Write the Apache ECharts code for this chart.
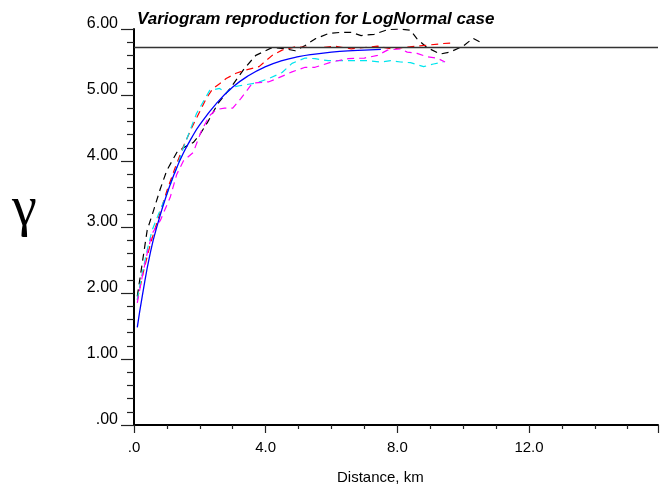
<!DOCTYPE html>
<html>
<head>
<meta charset="utf-8">
<script src="https://cdn.jsdelivr.net/npm/echarts@6/dist/echarts.min.js"></script>
<style>html,body{margin:0;padding:0;background:#fff;}#c{width:661px;height:495px;}</style>
</head>
<body>
<div id="c"></div>
<script>
// ---- data ----
const xTickValues = [0, 4, 8, 12];
const xTickLabels = ['.0', '4.0', '8.0', '12.0'];
const yTickValues = [0, 1, 2, 3, 4, 5, 6];
const yTickLabels = ['.00', '1.00', '2.00', '3.00', '4.00', '5.00', '6.00'];
const xMax = 15.92;
const sill = 5.72;

// model variogram (solid blue)
const modelCurve = [[0.1,1.48],[0.25,1.95],[0.5,2.62],[0.75,3.1],[1.0,3.5],[1.25,3.84],[1.5,4.12],[1.75,4.35],[2.0,4.55],[2.5,4.87],[3.0,5.12],[3.5,5.3],[4.0,5.43],[4.5,5.52],[5.0,5.58],[5.5,5.62],[6.0,5.65],[6.5,5.67],[7.0,5.68],[7.5,5.69]];
// realisation variograms (dashed)
const blackCurve = [[0.1,1.95],[0.25,2.45],[0.4,2.95],[0.6,3.26],[0.8,3.58],[1.0,3.86],[1.3,4.13],[1.5,4.2],[1.8,4.28],[2.0,4.4],[2.25,4.6],[2.55,4.87],[2.95,5.12],[3.35,5.4],[3.7,5.6],[4.2,5.72],[4.6,5.7],[4.9,5.67],[5.2,5.75],[5.5,5.85],[5.9,5.93],[6.3,5.95],[6.6,5.95],[6.9,5.9],[7.3,5.92],[7.7,5.99],[8.1,6.0],[8.4,5.98],[8.6,5.85],[8.9,5.72],[9.3,5.62],[9.6,5.65],[10.0,5.74],[10.3,5.86],[10.6,5.78]];
const redCurve = [[0.1,1.9],[0.3,2.35],[0.5,2.75],[0.75,3.15],[1.0,3.55],[1.25,3.9],[1.5,4.22],[1.75,4.5],[2.0,4.75],[2.2,4.95],[2.4,5.1],[2.6,5.17],[2.8,5.25],[3.1,5.33],[3.4,5.38],[3.8,5.43],[4.2,5.6],[4.5,5.68],[4.9,5.73],[5.3,5.72],[5.7,5.72],[6.1,5.74],[6.6,5.7],[7.0,5.72],[7.4,5.74],[7.8,5.7],[8.2,5.72],[8.6,5.74],[9.0,5.76],[9.4,5.78],[9.7,5.79]];
const cyanCurve = [[0.1,1.9],[0.25,2.3],[0.4,2.65],[0.55,2.95],[0.75,3.2],[1.0,3.5],[1.3,3.9],[1.5,4.2],[1.9,4.72],[2.3,5.07],[2.6,5.1],[2.8,5.03],[3.0,5.12],[3.2,5.14],[3.7,5.18],[4.1,5.25],[4.5,5.34],[4.8,5.48],[5.2,5.56],[5.5,5.55],[5.9,5.52],[6.3,5.52],[6.6,5.52],[7.1,5.52],[7.5,5.5],[7.8,5.52],[8.1,5.5],[8.4,5.49],[8.8,5.43],[9.1,5.47],[9.4,5.5]];
const magentaCurve = [[0.1,1.85],[0.25,2.25],[0.4,2.6],[0.55,2.9],[0.8,3.1],[1.1,3.45],[1.3,3.8],[1.5,4.0],[1.8,4.13],[2.05,4.46],[2.3,4.69],[2.5,4.78],[2.75,4.8],[3.0,4.8],[3.25,4.95],[3.6,5.18],[4.1,5.2],[4.3,5.24],[4.8,5.35],[5.2,5.42],[5.5,5.42],[6.0,5.5],[6.5,5.55],[7.0,5.56],[7.4,5.6],[7.7,5.68],[8.1,5.7],[8.3,5.65],[8.6,5.63],[8.9,5.58],[9.2,5.56],[9.45,5.5]];

const chart = echarts.init(document.getElementById('c'), null, {renderer: 'canvas'});
const FONT = 'Liberation Sans, Arial, sans-serif';
function dashed(name, data, color) {
  return {name, type: 'line', data, showSymbol: false, symbol: 'none', animation: false,
    lineStyle: {color, width: 1.2, type: [7, 5]}, z: 3};
}
chart.setOption({
  backgroundColor: '#ffffff',
  animation: false,
  title: {
    text: 'Variogram reproduction for LogNormal case',
    left: 132, top: 6,
    textStyle: {fontFamily: FONT, fontSize: 17, fontWeight: 'bold', fontStyle: 'italic', color: '#000'}
  },
  grid: {left: 134, right: 0, top: 29, bottom: 70, containLabel: false},
  xAxis: {
    type: 'value', min: 0, max: xMax, interval: 4,
    axisLine: {show: true, onZero: false, lineStyle: {color: '#000', width: 2}},
    axisTick: {show: true, length: 8, lineStyle: {color: '#222', width: 1.2}},
    minorTick: {show: true, splitNumber: 4, length: 4, lineStyle: {color: '#222', width: 1.2}},
    splitLine: {show: false},
    axisLabel: {
      margin: 15, fontFamily: FONT, fontSize: 15, color: '#000',
      formatter: v => { const i = xTickValues.indexOf(v); return i >= 0 ? xTickLabels[i] : ''; }
    }
  },
  yAxis: {
    type: 'value', min: 0, max: 6, interval: 1,
    axisLine: {show: true, onZero: false, lineStyle: {color: '#000', width: 2}},
    axisTick: {show: true, length: 13, lineStyle: {color: '#222', width: 1.2}},
    minorTick: {show: true, splitNumber: 5, length: 7, lineStyle: {color: '#222', width: 1.2}},
    splitLine: {show: false},
    axisLabel: {
      margin: 16, fontFamily: FONT, fontSize: 16, color: '#000', verticalAlign: 'bottom',
      lineHeight: 10,
      formatter: v => { const i = yTickValues.indexOf(v); return i >= 0 ? yTickLabels[i] : ''; }
    }
  },
  graphic: [
    {type: 'text', left: 337, top: 470, style: {text: 'Distance, km', font: '15px ' + FONT, fill: '#000'}},
    {type: 'text', left: 12, top: 182, style: {text: 'γ', font: '56px "Liberation Serif", "DejaVu Serif", serif', fill: '#000'}}
  ],
  series: [
    {name: 'sill', type: 'line', data: [], symbol: 'none',
      markLine: {silent: true, symbol: ['none', 'none'], label: {show: false},
        lineStyle: {color: '#333', width: 1.3, type: 'solid'}, data: [{yAxis: sill}]}},
    dashed('black', blackCurve, '#000000'),
    dashed('red', redCurve, '#ff0000'),
    dashed('cyan', cyanCurve, '#00e5ee'),
    dashed('magenta', magentaCurve, '#ff00ff'),
    {name: 'model', type: 'line', data: modelCurve, showSymbol: false, symbol: 'none', smooth: true,
      lineStyle: {color: '#0000ff', width: 1.3}, z: 4}
  ]
});
</script>
</body>
</html>
